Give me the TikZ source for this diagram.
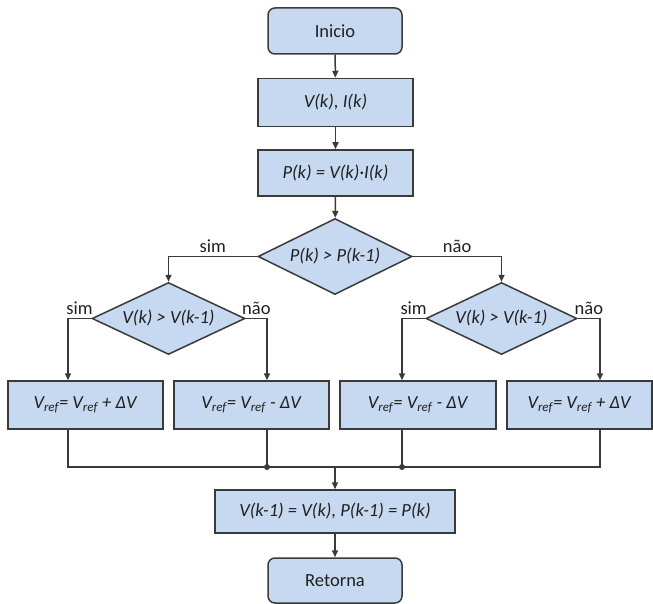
\documentclass[tikz,border=0pt]{standalone}
\usepackage{fontspec}
\setmainfont{Carlito}
\usetikzlibrary{shapes.geometric,arrows.meta}
\definecolor{boxfill}{HTML}{C6D9F1}
\definecolor{edge}{HTML}{3A3A3A}
\definecolor{txt}{HTML}{202020}
\begin{document}
\begin{tikzpicture}[x=1pt,y=-1pt,
  font=\fontsize{18.5}{22}\selectfont,
  every node/.style={text=txt},
  base/.style={draw=edge,fill=boxfill,line width=1.5pt,inner sep=0pt,anchor=center},
  term/.style={base,rounded corners=7pt,minimum width=134pt,minimum height=46pt},
  proc/.style={base,minimum height=48pt},
  dec/.style={base,shape=diamond,shape aspect=2},
  line/.style={draw=edge,line width=1.5pt},
  arr/.style={line,-{Triangle[length=7pt,width=6pt]}},
  lab/.style={above,inner sep=3pt},
  dot/.style={circle,fill=edge,inner sep=0pt,minimum size=6pt}]
\useasboundingbox (0,0) rectangle (653,604);

\node[term] (start) at (335,31) {Inicio};
\node[proc,minimum width=155pt] (vi) at (335.5,102.5) {\textit{V(k), I(k)}};
\node[proc,minimum width=155pt,minimum height=46pt] (pk) at (335.5,173) {\textit{P(k) = V(k)·I(k)}};
\node[dec,minimum width=154pt,minimum height=76pt] (d1) at (335,256.5) {\textit{P(k) > P(k-1)}};
\node[dec,minimum width=153pt,minimum height=72pt] (d2) at (168.5,318.5) {\textit{V(k) > V(k-1)}};
\node[dec,minimum width=151pt,minimum height=72pt] (d3) at (501.5,318.5) {\textit{V(k) > V(k-1)}};

\node[proc,minimum width=155pt] (b1) at (85.5,405) {\textit{V\textsubscript{ref}= V\textsubscript{ref} + ΔV}};
\node[proc,minimum width=155pt] (b2) at (251.5,405) {\textit{V\textsubscript{ref}= V\textsubscript{ref} - ΔV}};
\node[proc,minimum width=156pt] (b3) at (418,405) {\textit{V\textsubscript{ref}= V\textsubscript{ref} - ΔV}};
\node[proc,minimum width=145pt] (b4) at (579.5,405) {\textit{V\textsubscript{ref}= V\textsubscript{ref} + ΔV}};

\node[proc,minimum width=240pt,minimum height=43pt] (fin) at (335,511.5) {\textit{V(k-1) = V(k), P(k-1) = P(k)}};
\node[term,minimum height=45pt] (ret) at (335,580.5) {Retorna};

\coordinate (c1) at (68,0);
\coordinate (c2) at (267,0);
\coordinate (c3) at (402,0);
\coordinate (c4) at (600,0);
\coordinate (jl) at (68,467);
\coordinate (jr) at (600,467);
\coordinate (j2) at (267,467);
\coordinate (j3) at (402,467);
\coordinate (jc) at (335,467);

\draw[arr] (start) -- (vi);
\draw[arr] (vi) -- (pk);
\draw[arr] (pk) -- (d1);
\draw[arr] (d1.west) -| node[lab,pos=0.25]{sim} (d2.north);
\draw[arr] (d1.east) -| node[lab,pos=0.25]{não} (d3.north);
\draw[arr] (d2.west) -| node[lab,pos=0.25]{sim} (b1.north -| c1);
\draw[arr] (d2.east) -| node[lab,pos=0.25]{não} (b2.north -| c2);
\draw[arr] (d3.west) -| node[lab,pos=0.25]{sim} (b3.north -| c3);
\draw[arr] (d3.east) -| node[lab,pos=0.25]{não} (b4.north -| c4);

\draw[line] (b1.south -| c1) -- (jl) -- (jr) -- (b4.south -| c4);
\draw[line] (b2.south -| c2) -- (j2);
\draw[line] (b3.south -| c3) -- (j3);
\node[dot] (dot2) at (j2) {};
\node[dot] (dot3) at (j3) {};
\draw[arr] (jc) -- (fin.north);
\draw[arr] (fin) -- (ret);
\end{tikzpicture}
\end{document}
